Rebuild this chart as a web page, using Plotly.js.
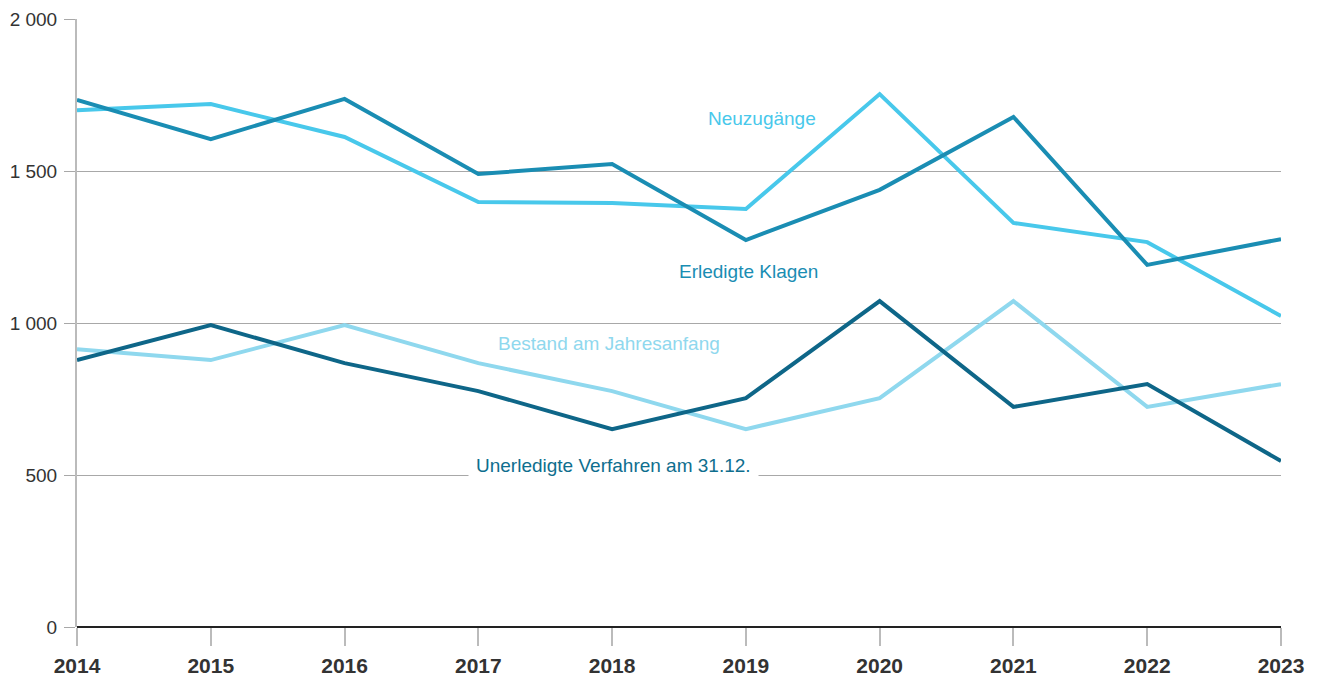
<!DOCTYPE html>
<html>
<head>
<meta charset="utf-8">
<script src="https://cdn.plot.ly/plotly-3.0.1.min.js"></script>
<style>html,body{margin:0;padding:0;background:#fff;}#chart{width:1319px;height:678px;}</style>
</head>
<body>
<div id="chart"></div>
<script>
const years = [2014, 2015, 2016, 2017, 2018, 2019, 2020, 2021, 2022, 2023];
const neuzugaenge = [1700, 1720, 1612, 1398, 1395, 1375, 1753, 1329, 1266, 1023];
const erledigteKlagen = [1734, 1605, 1737, 1490, 1523, 1273, 1438, 1678, 1191, 1276];
const bestandJahresanfang = [914, 878, 993, 868, 776, 651, 753, 1072, 724, 799];
const unerledigteVerfahren = [878, 993, 868, 776, 651, 753, 1072, 724, 799, 546];
const yTickVals = [0, 500, 1000, 1500, 2000];
const yTickText = ["0", "500", "1 000", "1 500", "2 000"];
const seriesNames = ["Neuzugänge", "Erledigte Klagen", "Bestand am Jahresanfang", "Unerledigte Verfahren am 31.12."];

const colors = ["#48C8EB", "#1A8DB3", "#8FD8EE", "#0E6688"];
const font = "Liberation Sans, Arial, sans-serif";

const seriesData = [neuzugaenge, erledigteKlagen, bestandJahresanfang, unerledigteVerfahren];
const order = [2, 3, 0, 1];
const traces = order.map(i => ({
  x: years, y: seriesData[i], name: seriesNames[i], type: "scatter", mode: "lines",
  line: {color: colors[i], width: 4, shape: "linear"}, hoverinfo: "x+y+name"
}));

const labelPos = [
  {x: 2019.12, y: 1674},
  {x: 2019.02, y: 1171},
  {x: 2017.98, y: 934},
  {x: 2018.01, y: 530}
];
const annotations = seriesNames.map((n, i) => ({
  x: labelPos[i].x, y: labelPos[i].y, xref: "x", yref: "y", text: n, showarrow: false,
  font: {family: font, size: 19, color: i === 3 ? "#0E6E8E" : colors[i]},
  bgcolor: i === 3 ? "#ffffff" : "rgba(0,0,0,0)", borderpad: i === 3 ? 7 : 0,
  xanchor: "center", yanchor: "middle"
}));

const layout = {
  width: 1319, height: 678,
  margin: {l: 77, r: 38, t: 19, b: 51},
  paper_bgcolor: "#fff", plot_bgcolor: "#fff",
  showlegend: false,
  font: {family: font, size: 19, color: "#333"},
  xaxis: {
    range: [2014, 2023], tickvals: years, ticktext: years.map(String),
    showgrid: false, zeroline: false, showline: false,
    ticks: "outside", ticklen: 18, tickwidth: 2, tickcolor: "#bbb",
    ticklabelstandoff: 2,
    tickfont: {family: font, size: 21, color: "#333", weight: "bold"}
  },
  yaxis: {
    range: [0, 2000], tickvals: yTickVals, ticktext: yTickText,
    showgrid: true, gridcolor: "#a8a8a8", gridwidth: 1,
    zeroline: true, zerolinecolor: "#222", zerolinewidth: 2,
    showline: true, linecolor: "#bbb", linewidth: 2,
    ticks: "outside", ticklen: 11, tickwidth: 1, tickcolor: "#a8a8a8",
    ticklabelstandoff: 3,
    tickfont: {family: font, size: 19, color: "#333"}
  },
  annotations: annotations
};

Plotly.newPlot("chart", traces, layout, {displayModeBar: false, staticPlot: true});
</script>
</body>
</html>
